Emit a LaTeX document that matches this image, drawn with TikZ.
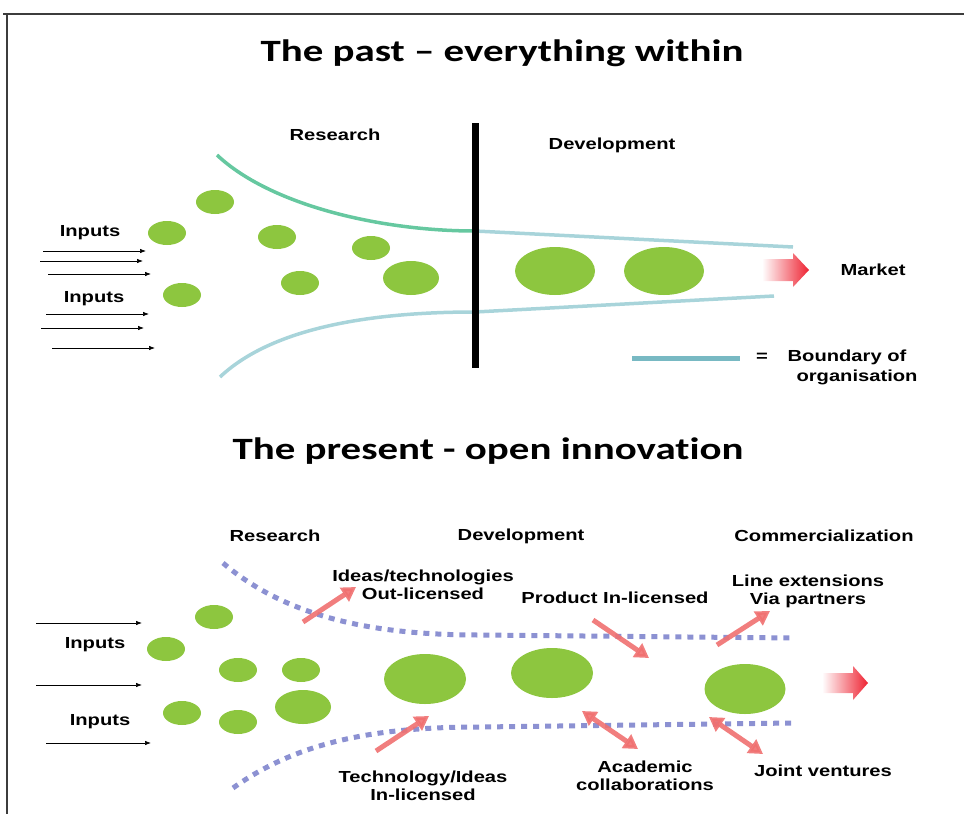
\documentclass[tikz,border=0pt]{standalone}
\usepackage{fontspec}
\setmainfont{Liberation Sans}
\newfontfamily\labfont{Liberation Sans}[FakeStretch=1.26]
\newfontfamily\titfont{Carlito}[FakeStretch=1.32,Ligatures=NoCommon]
\usetikzlibrary{arrows.meta,shapes.geometric}
\definecolor{blobgreen}{RGB}{141,198,63}
\definecolor{edgegreen}{RGB}{102,200,160}
\definecolor{edgeblue}{RGB}{168,212,218}
\definecolor{legendblue}{RGB}{120,185,195}
\definecolor{dotblue}{RGB}{140,145,210}
\definecolor{arrred}{RGB}{240,112,112}
\definecolor{deepred}{RGB}{238,35,50}
\definecolor{framegray}{RGB}{60,60,60}
\tikzset{
  blob/.style 2 args={ellipse,fill=blobgreen,draw=none,inner sep=0pt,minimum width=#1pt,minimum height=#2pt},
  lab/.style={font=\labfont\bfseries\fontsize{16}{18}\selectfont,inner sep=0pt,align=center},
  titlestyle/.style={font=\titfont\bfseries\fontsize{31}{36}\selectfont,inner sep=0pt},
  inarrow/.style={-{Latex[length=6pt,width=4.5pt]},line width=0.7pt,black},
  redarr/.style={line width=5pt,arrred,opacity=0.9,-{Triangle[length=14pt,width=16pt]}},
  reddbl/.style={line width=5pt,arrred,opacity=0.9,{Triangle[length=14pt,width=16pt]}-{Triangle[length=14pt,width=16pt]}},
  marketshade/.style={left color=white,middle color=deepred!75,right color=deepred},
  greenedge/.style={edgegreen,line width=3.5pt},
  blueedge/.style={edgeblue,line width=3.5pt},
  dotedge/.style={dotblue,line width=5pt,dash pattern=on 6pt off 6pt},
  framestyle/.style={framegray,line width=2.4pt},
}
\begin{document}
\begin{tikzpicture}[x=1pt,y=-1pt]
\useasboundingbox (0,0) rectangle (964,814);
% frame
\coordinate (f1) at (3,14);
\coordinate (f2) at (964,14);
\coordinate (f3) at (7,13);
\coordinate (f4) at (7,814);
\draw[framestyle] (f1) -- (f2);
\draw[framestyle] (f3) -- (f4);

% ===== the past =====
\node[titlestyle] (title1) at (502,53) {The past – everything within};
\node[lab] (res1) at (335,135) {Research};
\node[lab] (dev1) at (612,145) {Development};

% boundaries
\draw[greenedge] (217,155) .. controls (270,205) and (380,231) .. (475,231);
\draw[blueedge] (475,231) -- (793,247);
\draw[blueedge] (220,377) .. controls (275,325) and (380,312) .. (475,312);
\draw[blueedge] (475,312) -- (774,296);
\draw[line width=7pt,black] (475,123) -- (475,368);

% blobs
\node[blob={38}{24}] (p1) at (215,202) {};
\node[blob={38}{24}] (p2) at (167,233) {};
\node[blob={38}{24}] (p3) at (182,295) {};
\node[blob={38}{24}] (p4) at (277,237) {};
\node[blob={38}{24}] (p5) at (300,283) {};
\node[blob={38}{24}] (p6) at (371,248) {};
\node[blob={56}{34}] (p7) at (411,278) {};
\node[blob={80}{48}] (p8) at (555,271) {};
\node[blob={80}{48}] (p9) at (664,271) {};

% inputs
\node[lab] (in1) at (90,233) {Inputs};
\node[lab] (in2) at (94,299) {Inputs};
\foreach \i/\xa/\xb/\yy in {1/43/146/251,2/40/143/261,3/48/151/274,4/46/149/314,5/41/144/328,6/52/155/348}{
  \coordinate (ia\i) at (\xa,\yy);
  \coordinate (ib\i) at (\xb,\yy);
  \draw[inarrow] (ia\i) -- (ib\i);
}

% market
\shade[marketshade] (762,259) -- (793,259) -- (793,253) -- (809,270) -- (793,287) -- (793,281) -- (762,281) -- cycle;
\node[lab] (market) at (873,270) {Market};

% legend
\coordinate (lg1) at (632,358);
\coordinate (lg2) at (740,358);
\draw[legendblue,line width=5pt] (lg1) -- (lg2);
\node[lab] (eq) at (762,357) {=};
\node[lab] (bo1) at (847,357) {Boundary of};
\node[lab] (bo2) at (857,377) {organisation};

% ===== the present =====
\node[titlestyle] (title2) at (488,451) {The present - open innovation};
\node[lab] (res2) at (275,536) {Research};
\node[lab] (dev2) at (521,536) {Development};
\node[lab] (com2) at (824,536) {Commercialization};

% dotted boundaries
\draw[dotedge] (223,563) .. controls (290,620) and (380,635) .. (480,635) -- (793,638);
\draw[dotedge] (233,788) .. controls (300,740) and (380,727) .. (480,727) -- (793,723);

% blobs
\node[blob={38}{24}] (q1) at (214,617) {};
\node[blob={38}{24}] (q2) at (166,649) {};
\node[blob={38}{24}] (q3) at (238,670) {};
\node[blob={38}{24}] (q4) at (301,670) {};
\node[blob={38}{24}] (q5) at (182,713) {};
\node[blob={38}{24}] (q6) at (238,722) {};
\node[blob={56}{34}] (q7) at (303,707) {};
\node[blob={82}{50}] (q8) at (425,679) {};
\node[blob={82}{50}] (q9) at (552,673) {};
\node[blob={81}{50}] (q10) at (745,689) {};

% inputs
\node[lab] (in3) at (95,645) {Inputs};
\node[lab] (in4) at (100,722) {Inputs};
\foreach \i/\xa/\xb/\yy in {7/36/142/623,8/36/142/685,9/46/151/743}{
  \coordinate (ia\i) at (\xa,\yy);
  \coordinate (ib\i) at (\xb,\yy);
  \draw[inarrow] (ia\i) -- (ib\i);
}

% labels
\node[lab] (ideas) at (423,585) {Ideas/technologies\\Out-licensed};
\node[lab] (prod) at (615,598) {Product In-licensed};
\node[lab] (line) at (808,591) {Line extensions\\Via partners};
\node[lab] (tech) at (423,786) {Technology/Ideas\\In-licensed};
\node[lab] (acad) at (645,776) {Academic\\collaborations};
\node[lab] (joint) at (823,771) {Joint ventures};

% red arrows
\coordinate (r1a) at (303,622); \coordinate (r1b) at (356,587);
\coordinate (r2a) at (376,751); \coordinate (r2b) at (429,716);
\coordinate (r3a) at (593,620); \coordinate (r3b) at (649,658);
\coordinate (r4a) at (582,711); \coordinate (r4b) at (638,749);
\coordinate (r5a) at (717,645); \coordinate (r5b) at (770,611);
\coordinate (r6a) at (709,717); \coordinate (r6b) at (763,754);
\draw[redarr] (r1a) -- (r1b);
\draw[redarr] (r2a) -- (r2b);
\draw[redarr] (r3a) -- (r3b);
\draw[reddbl] (r4a) -- (r4b);
\draw[redarr] (r5a) -- (r5b);
\draw[reddbl] (r6a) -- (r6b);

\shade[marketshade] (822,673) -- (853,673) -- (853,666) -- (868,683) -- (853,700) -- (853,693) -- (822,693) -- cycle;
\end{tikzpicture}
\end{document}
